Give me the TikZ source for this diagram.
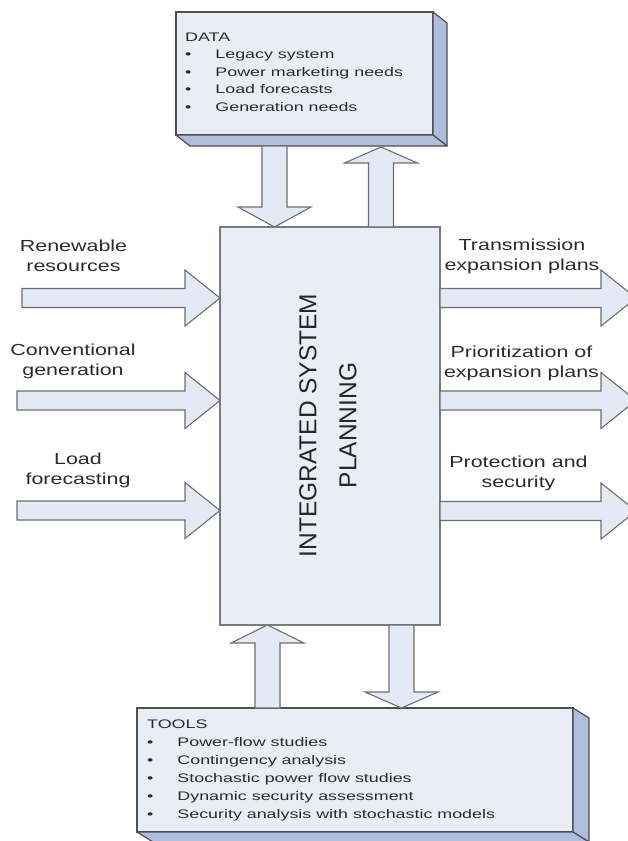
\documentclass[tikz,border=0pt]{standalone}
\usepackage{fontspec}
\setmainfont{Liberation Sans}
\newfontfamily\lblfont{Liberation Sans}[FakeStretch=1.34]
\newfontfamily\lstfont{Liberation Sans}[FakeStretch=1.44]
\usepackage{tikz}
\usetikzlibrary{calc}
\definecolor{cFace}{HTML}{E8EDF6}
\definecolor{cSide}{HTML}{AEBEDC}
\definecolor{cEdge}{HTML}{4F4F4F}
\definecolor{cArr}{HTML}{E3E9F5}
\definecolor{cArrEdge}{HTML}{6F6F6F}
\definecolor{cText}{HTML}{2B2B2B}
\tikzset{
  panel/.style={draw=cEdge, line width=1.2pt, fill=cFace, inner sep=0pt, outer sep=0pt},
  sideface/.style={draw=cEdge, line width=1.2pt, fill=cSide, line join=round},
  blockarr/.style={draw=cArrEdge, line width=1.1pt, fill=cArr},
  sidelbl/.style={font=\lblfont\fontsize{16}{20}\selectfont, text=cText, align=center, inner sep=0pt},
  listtxt/.style={font=\lstfont\fontsize{12.4}{17.6}\selectfont, text=cText, inner sep=0pt, anchor=base west},
  titletxt/.style={font=\fontsize{24.5}{40}\selectfont, text=black!85, align=center, rotate=90, inner sep=0pt}
}
% block arrow pointing right: start, tip
\newcommand{\harrow}[2]{%
  \draw[blockarr] let \p1=(#1), \p2=(#2) in
    (\x1,\y1+9.5pt) -- (\x2-35pt,\y1+9.5pt) -- (\x2-35pt,\y1+28pt) -- (\x2,\y1)
    -- (\x2-35pt,\y1-28pt) -- (\x2-35pt,\y1-9.5pt) -- (\x1,\y1-9.5pt) -- cycle;}
% block arrow up/down: start, tip, head base offset (signed, with unit)
\newcommand{\varrow}[3]{%
  \draw[blockarr] let \p1=(#1), \p2=(#2) in
    (\x1-12.5pt,\y1) -- (\x1-12.5pt,\y2#3) -- (\x1-36.5pt,\y2#3) -- (\x1,\y2)
    -- (\x1+36.5pt,\y2#3) -- (\x1+12.5pt,\y2#3) -- (\x1+12.5pt,\y1) -- cycle;}

\begin{document}
\begin{tikzpicture}[x=1pt, y=-1pt]
\clip (0,0) rectangle (628,841);
% ----- data box -----
\node[panel, minimum width=257pt, minimum height=123pt] (data) at (304.5,73.5) {};
\draw[sideface] (data.north east) -- ++(14,11) -- ($(data.south east)+(14,11)$) -- (data.south east) -- cycle;
\draw[sideface] (data.south west) -- (data.south east) -- ++(14,11) -- ($(data.south west)+(14,11)$) -- cycle;
\node[listtxt] (datatxt) at (185,41) {\begin{tabular}[t]{@{}l@{\hspace{24pt}}l@{}}
  \multicolumn{2}{@{}l@{}}{DATA}\\
  \textbullet & Legacy system\\
  \textbullet & Power marketing needs\\
  \textbullet & Load forecasts\\
  \textbullet & Generation needs
\end{tabular}};
% ----- main block -----
\node[panel, draw=cEdge!75, minimum width=220pt, minimum height=398pt] (isp) at (330,426) {};
\node[titletxt] (isptxt) at (328,425.5) {INTEGRATED SYSTEM\\PLANNING};
% ----- tools box -----
\node[panel, minimum width=436pt, minimum height=124pt] (tools) at (355,770) {};
\draw[sideface] (tools.north east) -- ++(16,10) -- ($(tools.south east)+(16,10)$) -- (tools.south east) -- cycle;
\draw[sideface] (tools.south west) -- (tools.south east) -- ++(16,10) -- ($(tools.south west)+(16,10)$) -- cycle;
\node[listtxt, font=\lstfont\fontsize{12.4}{18}\selectfont] (toolstxt) at (147,728) {\begin{tabular}[t]{@{}l@{\hspace{24pt}}l@{}}
  \multicolumn{2}{@{}l@{}}{TOOLS}\\
  \textbullet & Power-flow studies\\
  \textbullet & Contingency analysis\\
  \textbullet & Stochastic power flow studies\\
  \textbullet & Dynamic security assessment\\
  \textbullet & Security analysis with stochastic models
\end{tabular}};
% ----- inputs -----
\coordinate (ren) at (22,298);
\coordinate (con) at (17,400.5);
\coordinate (lod) at (17,510.5);
\harrow{ren}{isp.west |- ren}
\harrow{con}{isp.west |- con}
\harrow{lod}{isp.west |- lod}
\node[sidelbl] (lren) at (73.5,256) {Renewable\\resources};
\node[sidelbl] (lcon) at (73,361) {Conventional\\generation};
\node[sidelbl] (llod) at (78,470) {Load\\forecasting};
% ----- outputs -----
\coordinate (tra) at (636,298);
\coordinate (pri) at (636,400.5);
\coordinate (pro) at (636,511);
\harrow{isp.east |- tra}{tra}
\harrow{isp.east |- pri}{pri}
\harrow{isp.east |- pro}{pro}
\node[sidelbl] (rtra) at (522,256) {Transmission\\expansion plans};
\node[sidelbl] (rpri) at (521.5,363) {Prioritization of\\expansion plans};
\node[sidelbl] (rpro) at (518.5,473) {Protection and\\security};
% ----- data and tools links -----
\coordinate (din) at (274.5,146);
\coordinate (dout) at (381,147);
\coordinate (tin) at (267.5,708);
\coordinate (tout) at (401.5,708);
\varrow{din}{isp.north -| din}{+20pt}
\varrow{isp.north -| dout}{dout}{-16pt}
\varrow{tin}{isp.south -| tin}{-18pt}
\varrow{isp.south -| tout}{tout}{+16pt}
\end{tikzpicture}
\end{document}
